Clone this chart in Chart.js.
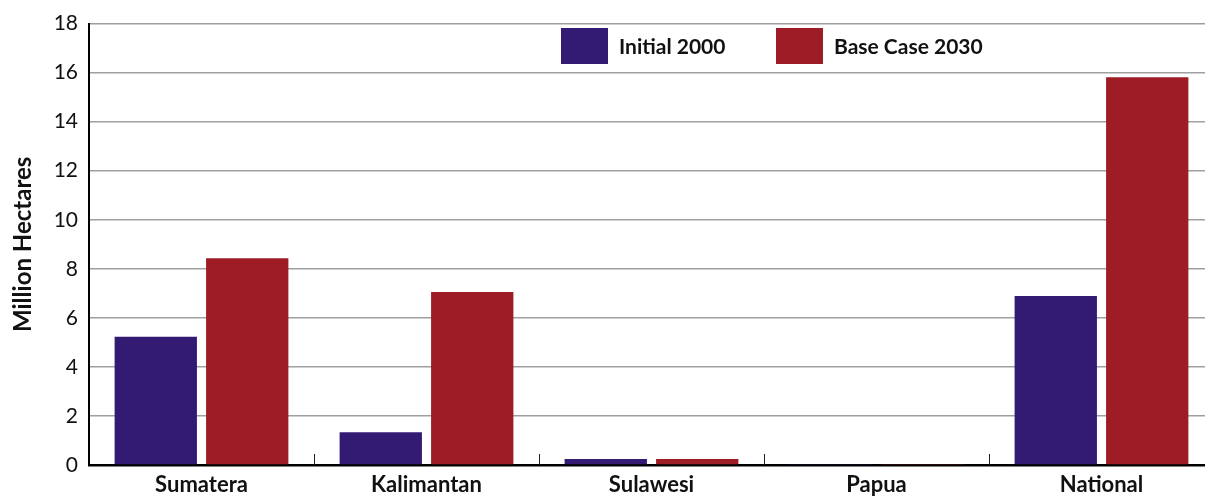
<!DOCTYPE html>
<html>
<head>
<meta charset="utf-8">
<script src="https://cdn.jsdelivr.net/npm/chart.js@4.4.1/dist/chart.umd.min.js"></script>
<style>
html,body{margin:0;padding:0;background:#fff;overflow:hidden;}
#wrap{width:1205px;height:497px;position:relative;overflow:hidden;}
</style>
</head>
<body>
<div id="wrap"><canvas id="c" width="1216" height="497"></canvas></div>
<script>
const categories = ["Sumatera", "Kalimantan", "Sulawesi", "Papua", "National"];
const initial2000 = [5.23, 1.34, 0.24, 0.04, 6.89];
const baseCase2030 = [8.43, 7.05, 0.24, 0.04, 15.81];
const seriesLabels = ["Initial 2000", "Base Case 2030"];
const yTicks = [0, 2, 4, 6, 8, 10, 12, 14, 16, 18];
const yTitle = "Million Hectares";

const BLUE = "#331b73";
const RED = "#9e1c26";

const innerTicks = {
  id: 'innerTicks',
  afterDatasetsDraw(chart) {
    const x = chart.scales.x, ctx = chart.ctx, bottom = chart.chartArea.bottom;
    ctx.save();
    ctx.strokeStyle = '#222';
    ctx.lineWidth = 1;
    for (let i = 1; i < categories.length; i++) {
      const px = Math.round((x.getPixelForTick(i - 1) + x.getPixelForTick(i)) / 2) + 0.5;
      ctx.beginPath();
      ctx.moveTo(px, bottom - 11);
      ctx.lineTo(px, bottom);
      ctx.stroke();
    }
    ctx.restore();
  }
};

const customLegend = {
  id: 'customLegend',
  afterDraw(chart) {
    const ctx = chart.ctx;
    ctx.save();
    ctx.font = 'bold 21px Lato';
    ctx.textBaseline = 'middle';
    ctx.textAlign = 'left';
    const starts = [561, 776];
    chart.data.datasets.forEach((ds, i) => {
      const x0 = starts[i];
      ctx.fillStyle = ds.backgroundColor;
      ctx.fillRect(x0, 28, 47, 36);
      ctx.fillStyle = '#111';
      ctx.fillText(ds.label, x0 + 58, 47);
    });
    ctx.restore();
  }
};

new Chart(document.getElementById('c'), {
  type: 'bar',
  data: {
    labels: categories,
    datasets: [
      { label: seriesLabels[0], data: initial2000, backgroundColor: BLUE },
      { label: seriesLabels[1], data: baseCase2030, backgroundColor: RED }
    ]
  },
  options: {
    responsive: false,
    animation: false,
    devicePixelRatio: 1,
    layout: { padding: { top: 21, right: 2, left: 0, bottom: 0 } },
    datasets: { bar: { categoryPercentage: 0.813, barPercentage: 0.9 } },
    plugins: {
      legend: { display: false },
      tooltip: { enabled: false }
    },
    scales: {
      x: {
        afterFit(s) { s.height = 32; },
        grid: { display: false, drawTicks: false },
        border: { display: true, color: '#000', width: 2.5 },
        ticks: { color: '#111', padding: 7, font: { family: 'Lato', size: 22, weight: 'bold' } }
      },
      y: {
        min: 0, max: 18,
        afterFit(s) { s.width = 89; },
        afterBuildTicks(s) { s.ticks = yTicks.map(v => ({ value: v })); },
        grid: { color: '#a0a0a0', lineWidth: 1.5, drawTicks: false },
        border: { display: true, color: '#000', width: 2 },
        ticks: { color: '#111', padding: 11, font: { family: 'Lato', size: 21 } },
        title: { display: true, text: yTitle, color: '#111', padding: { top: 9, bottom: 0 }, font: { family: 'Lato', size: 24, weight: 'bold' } }
      }
    }
  },
  plugins: [innerTicks, customLegend]
});
</script>
</body>
</html>
